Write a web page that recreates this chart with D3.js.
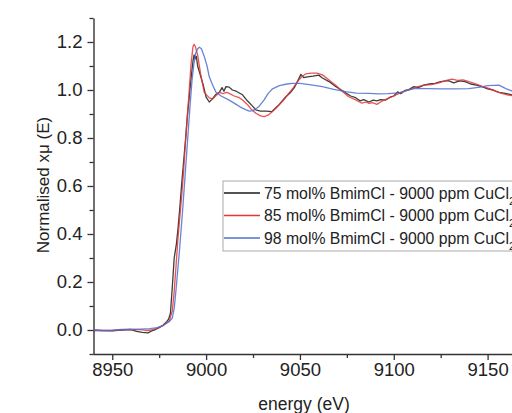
<!DOCTYPE html>
<html>
<head>
<meta charset="utf-8">
<script src="https://cdn.jsdelivr.net/npm/d3@7"></script>
<style>
  body { margin: 0; background: #fff; }
  svg { display: block; font-family: "Liberation Sans", Arial, sans-serif; }
</style>
</head>
<body>
<svg id="chart" width="512" height="413"></svg>
<script>
// energy (eV) and normalised absorption
const e75 = [8940, 8945, 8950, 8955, 8960, 8963, 8966, 8969, 8971, 8973, 8975, 8977, 8979, 8980, 8981, 8982, 8983, 8983.6, 8984.2, 8985, 8986, 8987, 8988, 8989, 8990, 8991, 8992, 8993, 8993.6, 8994.2, 8994.8, 8995.5, 8997, 8998.5, 9000, 9001.7, 9003, 9005, 9007, 9008.5, 9009.5, 9010.6, 9012.3, 9014, 9016, 9019.4, 9022, 9024.5, 9026.5, 9029, 9032, 9035, 9037, 9039, 9042.5, 9045, 9047, 9049, 9050.5, 9052, 9054, 9057, 9060, 9062, 9065.5, 9069, 9073.5, 9077, 9079.7, 9082, 9084, 9086.8, 9089, 9091, 9093, 9095.7, 9098, 9100, 9102, 9103.7, 9106, 9108, 9110.7, 9113, 9116, 9119, 9122, 9125, 9129, 9132, 9135, 9138, 9141, 9144, 9147, 9150, 9153, 9156, 9159.5, 9163, 9166, 9170];
const mu75 = [-0.002, -0.003, -0.004, 0.000, 0.002, -0.006, -0.010, -0.012, -0.004, 0.002, 0.010, 0.020, 0.035, 0.045, 0.070, 0.18, 0.30, 0.33, 0.36, 0.42, 0.51, 0.61, 0.70, 0.79, 0.89, 0.97, 1.05, 1.12, 1.146, 1.13, 1.14, 1.10, 1.06, 1.02, 0.97, 0.95, 0.96, 0.98, 0.99, 1.01, 0.995, 1.014, 1.012, 1.00, 0.995, 0.98, 0.955, 0.935, 0.917, 0.912, 0.912, 0.91, 0.925, 0.94, 0.972, 0.99, 1.01, 1.04, 1.065, 1.052, 1.055, 1.058, 1.062, 1.05, 1.035, 1.015, 0.993, 0.975, 0.968, 0.955, 0.96, 0.95, 0.958, 0.955, 0.96, 0.958, 0.97, 0.975, 0.992, 0.985, 0.998, 1.002, 1.014, 1.01, 1.02, 1.025, 1.028, 1.035, 1.039, 1.03, 1.038, 1.035, 1.025, 1.02, 1.014, 1.005, 1.0, 0.99, 0.986, 0.98, 0.985, 0.98];

const e85 = [8940, 8945, 8950, 8955, 8960, 8965, 8968, 8971, 8974, 8977, 8979, 8980.5, 8982, 8983, 8984, 8985, 8986, 8987, 8988, 8989, 8990, 8991, 8992, 8993, 8993.6, 8994.3, 8995.5, 8997, 8999, 9001.7, 9003.5, 9005.5, 9007, 9009, 9011, 9012.3, 9015, 9017.7, 9019.4, 9022, 9024, 9026.5, 9029, 9031, 9033, 9035.4, 9038, 9041, 9044, 9046.5, 9048.7, 9051, 9053, 9056, 9059, 9062, 9065, 9069, 9072, 9076, 9080, 9083, 9085, 9086.8, 9088.6, 9091, 9094, 9097, 9100, 9104, 9108, 9112, 9116, 9120, 9124, 9128, 9131, 9134, 9137, 9140, 9144, 9147, 9150.6, 9154, 9158, 9161, 9165, 9170];
const mu85 = [0.000, -0.002, -0.002, 0.001, 0.003, 0.002, -0.002, 0.000, 0.008, 0.018, 0.030, 0.04, 0.08, 0.16, 0.27, 0.38, 0.47, 0.56, 0.66, 0.78, 0.89, 1.00, 1.11, 1.18, 1.19, 1.18, 1.146, 1.07, 0.99, 0.967, 0.962, 0.978, 0.99, 0.985, 0.99, 0.986, 0.975, 0.968, 0.958, 0.94, 0.92, 0.903, 0.892, 0.889, 0.895, 0.91, 0.93, 0.955, 0.986, 1.01, 1.035, 1.055, 1.067, 1.07, 1.07, 1.063, 1.045, 1.02, 0.998, 0.972, 0.958, 0.945, 0.95, 0.944, 0.947, 0.94, 0.955, 0.965, 0.975, 0.99, 1.0, 1.012, 1.02, 1.022, 1.03, 1.04, 1.045, 1.04, 1.042, 1.035, 1.025, 1.015, 1.007, 0.995, 0.985, 0.979, 0.975, 0.972];

const e98 = [8940, 8945, 8950, 8955, 8960, 8965, 8970, 8974, 8977, 8979, 8980.5, 8982, 8983, 8984, 8985, 8985.7, 8986.5, 8987.5, 8988.5, 8989.5, 8990.5, 8991.5, 8992.5, 8993.5, 8994.5, 8995.5, 8996.4, 8997.5, 8999, 9000.5, 9001.7, 9003.5, 9005.3, 9008, 9012.3, 9016, 9018, 9021, 9023, 9025, 9028, 9031, 9033, 9035.4, 9039, 9043, 9046, 9050, 9055, 9062, 9068, 9074.4, 9080, 9086.8, 9092, 9097, 9102.8, 9107, 9111.6, 9118, 9125, 9132, 9140, 9146, 9150, 9156, 9160, 9164, 9170];
const mu98 = [0.000, -0.002, -0.001, 0.002, 0.003, 0.004, 0.006, 0.010, 0.018, 0.028, 0.036, 0.05, 0.09, 0.17, 0.26, 0.32, 0.40, 0.50, 0.61, 0.72, 0.83, 0.94, 1.04, 1.11, 1.155, 1.172, 1.178, 1.172, 1.14, 1.10, 1.055, 1.02, 0.99, 0.975, 0.958, 0.94, 0.93, 0.918, 0.912, 0.914, 0.93, 0.96, 0.985, 1.005, 1.018, 1.025, 1.028, 1.028, 1.022, 1.014, 1.003, 0.993, 0.987, 0.986, 0.984, 0.985, 0.988, 0.998, 1.007, 1.006, 1.005, 1.005, 1.006, 1.012, 1.018, 1.02, 1.005, 0.993, 0.99];

const seriesNames = ["75 mol% BmimCl - 9000 ppm CuCl", "85 mol% BmimCl - 9000 ppm CuCl", "98 mol% BmimCl - 9000 ppm CuCl"];
const seriesColors = ["#1a1a1a", "#e53535", "#4f6fcc"];
const xTicks = [8950, 9000, 9050, 9100, 9150];
const xMinor = [8975, 9025, 9075, 9125];
const yTicks = [0.0, 0.2, 0.4, 0.6, 0.8, 1.0, 1.2];
const yMinor = [-0.1, 0.1, 0.3, 0.5, 0.7, 0.9, 1.1, 1.3];

const svg = d3.select("#chart");
const mLeft = 93.5, mTop = 18, mBottom = 354;

const x = d3.scaleLinear().domain([8940, 9170]).range([mLeft, mLeft + 230 * 1.8767]);
const y = d3.scaleLinear().domain([-0.1, 1.3]).range([mBottom, mTop]);

const axisColor = "#333";

// minor ticks first
svg.append("g")
    .attr("transform", `translate(0,${mBottom})`)
    .call(d3.axisBottom(x).tickValues(xMinor).tickSize(4).tickFormat(""))
    .call(g => g.select(".domain").remove());
svg.append("g")
    .attr("transform", `translate(${mLeft},0)`)
    .call(d3.axisLeft(y).tickValues(yMinor).tickSize(4).tickFormat(""))
    .call(g => g.select(".domain").remove());

const xAxis = svg.append("g")
    .attr("transform", `translate(0,${mBottom})`)
    .call(d3.axisBottom(x).tickValues(xTicks).tickSize(6).tickPadding(3).tickSizeOuter(0).tickFormat(d3.format("d")));
xAxis.select(".domain").attr("d", `M${mLeft},0.5H512`);

const yAxis = svg.append("g")
    .attr("transform", `translate(${mLeft},0)`)
    .call(d3.axisLeft(y).tickValues(yTicks).tickSize(6).tickPadding(5).tickSizeOuter(0).tickFormat(d3.format(".1f")));

svg.selectAll(".tick line").attr("stroke", axisColor).attr("stroke-width", 1.3);
svg.selectAll(".domain").attr("stroke", axisColor).attr("stroke-width", 1.4);
svg.selectAll(".tick text").attr("fill", "#222").style("font-size", "18.5px");

// curves
const line = d3.line().x(d => x(d[0])).y(d => y(d[1]));
const allE = [e75, e85, e98];
const allMu = [mu75, mu85, mu98];
for (let i = 0; i < 3; i++) {
    const pts = allE[i].map((e, j) => [e, allMu[i][j]]);
    svg.append("path")
        .datum(pts)
        .attr("d", line)
        .attr("fill", "none")
        .attr("stroke", seriesColors[i])
        .attr("stroke-width", 1.3)
        .attr("stroke-opacity", 0.85)
        .attr("stroke-linejoin", "round");
}

// legend (runs off the right edge, as in the original figure)
const lg = svg.append("g").attr("transform", "translate(223,181)");
lg.append("rect")
    .attr("x", 0).attr("y", 0).attr("width", 320).attr("height", 70)
    .attr("fill", "#fff").attr("stroke", "#aaa").attr("stroke-width", 1);
seriesNames.forEach((name, i) => {
    const yy = 12 + i * 22.5;
    lg.append("line")
        .attr("x1", 1).attr("x2", 37).attr("y1", yy).attr("y2", yy)
        .attr("stroke", seriesColors[i]).attr("stroke-width", 1.4);
    const t = lg.append("text")
        .attr("x", 41).attr("y", yy + 5.5)
        .style("font-size", "15.8px").attr("fill", "#222")
        .text(name);
    t.append("tspan").attr("baseline-shift", "sub").style("font-size", "11px").text("2");
});

// axis titles
svg.append("text")
    .attr("x", 304).attr("y", 410)
    .attr("text-anchor", "middle")
    .style("font-size", "17.5px").attr("fill", "#222")
    .text("energy (eV)");

svg.append("text")
    .attr("transform", "translate(49,185) rotate(-90)")
    .attr("text-anchor", "middle")
    .style("font-size", "17px").attr("fill", "#222")
    .text("Normalised xμ (E)");
</script>
</body>
</html>
